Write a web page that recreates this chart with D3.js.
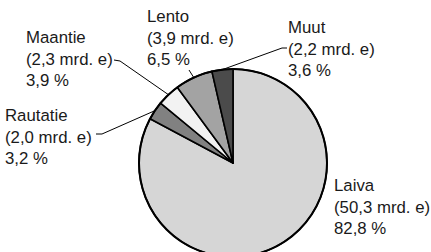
<!DOCTYPE html>
<html>
<head>
<meta charset="utf-8">
<script src="https://cdn.jsdelivr.net/npm/d3@7"></script>
<style>
  html, body { margin: 0; padding: 0; background: #fff; }
  svg text { font-family: "Liberation Sans", Arial, sans-serif; font-size: 16.8px; fill: #1a1a1a; }
</style>
</head>
<body>
<div id="chart"></div>
<script>
// Daten
const categories = ["Laiva", "Rautatie", "Maantie", "Lento", "Muut"];
const billions = ["50,3", "2,0", "2,3", "3,9", "2,2"];
const shares = [82.8, 3.2, 3.9, 6.5, 3.6];
const fills = ["#d6d6d6", "#818181", "#f2f2f2", "#a3a3a3", "#4b4b4b"];

// Layout
const width = 431, height = 252;
const cx = 233, cy = 163, radius = 94;
const lineH = 21.5;

// Label-Positionen (Text links, erste Grundlinie) und Knickpunkt der Führungslinie
const labelPos = {
  "Laiva":    {x: 334, y: 191, elbow: null},
  "Rautatie": {x: 5,   y: 121, elbow: [[96, 134], [102, 134]]},
  "Maantie":  {x: 26,  y: 43,  elbow: [[114, 60], [120, 61]]},
  "Lento":    {x: 147, y: 22,  elbow: [[189, 70]]},
  "Muut":     {x: 288, y: 33,  elbow: [[287, 48], [282, 48]]}
};

const svg = d3.select("#chart").append("svg")
    .attr("width", width)
    .attr("height", height);

const data = categories.map((c, i) => ({name: c, bn: billions[i], share: shares[i], fill: fills[i]}));

const pie = d3.pie().sort(null).value(d => d.share);
const arc = d3.arc().innerRadius(0).outerRadius(radius);
const arcs = pie(data);

const g = svg.append("g").attr("transform", `translate(${cx},${cy})`);

g.selectAll("path.slice")
    .data(arcs)
    .enter()
    .append("path")
    .attr("class", "slice")
    .attr("d", arc)
    .attr("fill", d => d.data.fill)
    .attr("stroke", "#000")
    .attr("stroke-width", 1.6)
    .attr("stroke-linejoin", "round");

// Außenkreis etwas kräftiger
g.append("circle")
    .attr("r", radius)
    .attr("fill", "none")
    .attr("stroke", "#000")
    .attr("stroke-width", 2);

// Führungslinien
arcs.forEach(a => {
  const pos = labelPos[a.data.name];
  if (!pos.elbow) return;
  const mid = (a.startAngle + a.endAngle) / 2;
  const px = cx + Math.sin(mid) * radius;
  const py = cy - Math.cos(mid) * radius;
  const pts = [[px, py]].concat(pos.elbow.slice().reverse());
  svg.append("path")
      .attr("d", d3.line()(pts))
      .attr("fill", "none")
      .attr("stroke", "#000")
      .attr("stroke-width", 1);
});

// Beschriftungen
arcs.forEach(a => {
  const pos = labelPos[a.data.name];
  const t = svg.append("text").attr("x", pos.x).attr("y", pos.y);
  const lines = [a.data.name, `(${a.data.bn} mrd. e)`, `${String(a.data.share).replace(".", ",")} %`];
  lines.forEach((l, i) => {
    t.append("tspan")
        .attr("x", pos.x)
        .attr("y", pos.y + i * lineH)
        .text(l);
  });
});
</script>
</body>
</html>
